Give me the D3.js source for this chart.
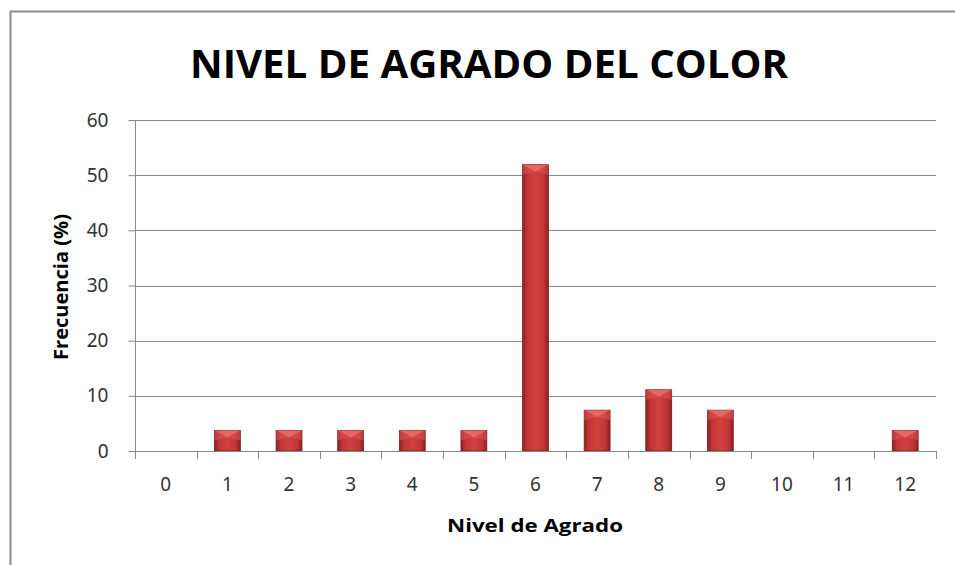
<!DOCTYPE html>
<html>
<head>
<meta charset="utf-8">
<script src="https://cdn.jsdelivr.net/npm/d3@7"></script>
<style>
  body { margin: 0; background: #fff; }
  svg { display: block; font-family: "Open Sans", "Noto Sans", sans-serif; }
  .axis path, .axis line { stroke: #888; }
</style>
</head>
<body>
<svg id="chart" width="955" height="565"></svg>
<script>
// niveles de agrado y frecuencia (%)
const niveles = ['0', '1', '2', '3', '4', '5', '6', '7', '8', '9', '10', '11', '12'];
const frecuencia = [0, 3.7, 3.7, 3.7, 3.7, 3.7, 51.9, 7.4, 11.1, 7.4, 0, 0, 3.7];
const yTicks = [0, 10, 20, 30, 40, 50, 60];

const svg = d3.select('#chart');

const marginLeft = 135, marginTop = 120;
const width = 936 - marginLeft, height = 451 - marginTop;

// marco del grafico
svg.append('path')
  .attr('d', 'M10.5,565 V11.5 H955')
  .attr('fill', 'none')
  .attr('stroke', '#8c8c8c')
  .attr('stroke-width', 2);

const defs = svg.append('defs');
const grad = defs.append('linearGradient').attr('id', 'barGrad')
  .attr('x1', 0).attr('x2', 1).attr('y1', 0).attr('y2', 0);
grad.append('stop').attr('offset', '0%').attr('stop-color', '#8e2022');
grad.append('stop').attr('offset', '18%').attr('stop-color', '#bf3537');
grad.append('stop').attr('offset', '50%').attr('stop-color', '#d2413f');
grad.append('stop').attr('offset', '82%').attr('stop-color', '#bf3537');
grad.append('stop').attr('offset', '100%').attr('stop-color', '#8e2022');

const chart = svg.append('g')
  .attr('transform', `translate(${marginLeft}, ${marginTop})`);

const xScale = d3.scaleBand()
  .range([0, width])
  .domain(niveles)
  .padding(0);

const yScale = d3.scaleLinear()
  .range([height, 0])
  .domain([0, 60]);

// lineas de la cuadricula
chart.append('g')
  .selectAll('line')
  .data(yTicks.slice(1))
  .enter()
  .append('line')
  .attr('x1', 0)
  .attr('x2', width)
  .attr('y1', d => Math.round(yScale(d)) + 0.5)
  .attr('y2', d => Math.round(yScale(d)) + 0.5)
  .attr('stroke', '#8a8a8a');

const barW = xScale.bandwidth() * 0.42;
const bevel = 7;

const bars = chart.selectAll('.bar')
  .data(frecuencia.map((v, i) => ({ nivel: niveles[i], valor: v })).filter(d => d.valor > 0))
  .enter()
  .append('g')
  .attr('transform', d => `translate(${xScale(d.nivel) + (xScale.bandwidth() - barW) / 2}, 0)`);

bars.append('rect')
  .attr('y', d => yScale(d.valor))
  .attr('width', barW)
  .attr('height', d => height - yScale(d.valor))
  .attr('fill', 'url(#barGrad)')
  .attr('stroke', '#7a1c1d')
  .attr('stroke-width', 0.8);

// bisel superior
bars.append('path')
  .attr('d', d => {
    const y = yScale(d.valor);
    return `M0,${y} H${barW} L${barW / 2},${y + bevel} Z`;
  })
  .attr('fill', '#f07a78')
  .attr('opacity', 0.7);

bars.append('path')
  .attr('d', d => {
    const y = yScale(d.valor);
    return `M0,${y} L${barW / 2},${y + bevel} L0,${y + bevel + 3} Z M${barW},${y} L${barW / 2},${y + bevel} L${barW},${y + bevel + 3} Z`;
  })
  .attr('fill', '#e25856')
  .attr('opacity', 0.5);

// ejes
chart.append('g')
  .attr('class', 'axis')
  .attr('transform', `translate(0, ${height + 0.5})`)
  .call(d3.axisBottom(xScale).tickSize(0).tickPadding(26))
  .call(g => g.select('.domain').attr('d', `M0,0 H${width}`));

chart.append('g')
  .attr('class', 'axis')
  .attr('transform', `translate(0, ${height})`)
  .selectAll('line')
  .data(d3.range(niveles.length + 1))
  .enter()
  .append('line')
  .attr('x1', i => Math.round(i * xScale.step()) + 0.5)
  .attr('x2', i => Math.round(i * xScale.step()) + 0.5)
  .attr('y1', 0)
  .attr('y2', 8)
  .attr('stroke', '#888');

chart.append('g')
  .attr('class', 'axis')
  .attr('transform', 'translate(0.5, 0)')
  .call(d3.axisLeft(yScale).tickValues(yTicks).tickSize(7).tickSizeOuter(0).tickPadding(20))
  .call(g => g.select('.domain').attr('d', `M0,0 V${height}`));

chart.selectAll('.axis .tick line').attr('stroke', '#888');
chart.selectAll('.axis').attr('font-family', '"Noto Sans", sans-serif').attr('font-size', 19);
chart.selectAll('.axis .tick text').attr('fill', '#333');

svg.append('text')
  .attr('x', 489)
  .attr('y', 78)
  .attr('text-anchor', 'middle')
  .attr('font-size', 40)
  .attr('font-weight', 'bold')
  .attr('textLength', 598)
  .attr('lengthAdjust', 'spacingAndGlyphs')
  .text('NIVEL DE AGRADO DEL COLOR');

svg.append('text')
  .attr('transform', 'translate(68, 287) rotate(-90)')
  .attr('text-anchor', 'middle')
  .attr('font-size', 19)
  .attr('font-weight', 'bold')
  .attr('textLength', 146)
  .attr('lengthAdjust', 'spacingAndGlyphs')
  .text('Frecuencia (%)');

svg.append('text')
  .attr('x', 535)
  .attr('y', 532)
  .attr('text-anchor', 'middle')
  .attr('font-size', 18)
  .attr('font-weight', 'bold')
  .attr('textLength', 176)
  .attr('lengthAdjust', 'spacingAndGlyphs')
  .text('Nivel de Agrado');
</script>
</body>
</html>
